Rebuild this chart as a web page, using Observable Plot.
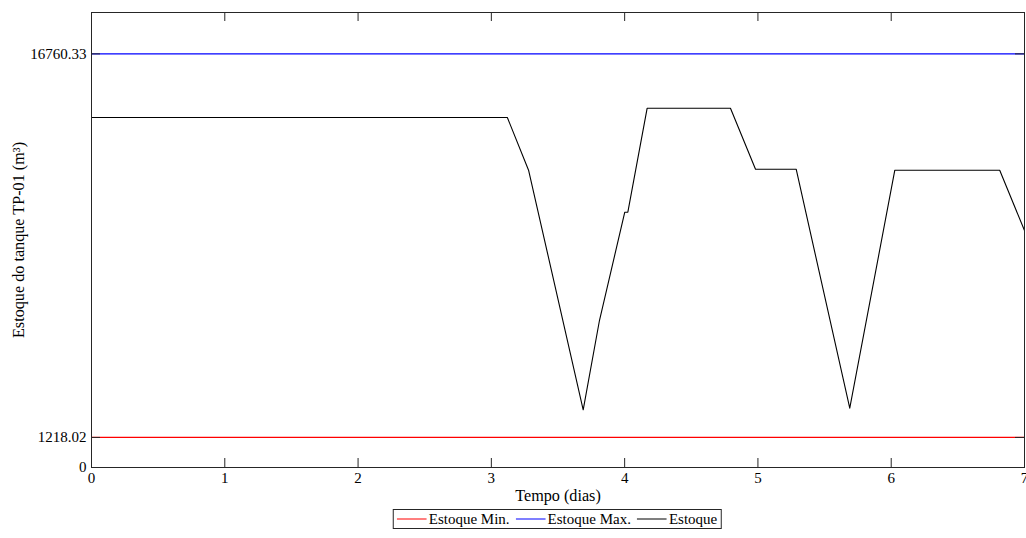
<!DOCTYPE html>
<html>
<head>
<meta charset="utf-8">
<script src="https://cdn.jsdelivr.net/npm/d3@7"></script>
<script src="https://cdn.jsdelivr.net/npm/@observablehq/plot@0.6"></script>
<style>
  html, body { margin: 0; padding: 0; background: #fff; }
  #wrap { position: relative; width: 1026px; height: 538px; font-family: "Liberation Serif", "Times New Roman", Tinos, "DejaVu Serif", "Noto Serif", serif; }
  #legend {
    position: absolute; top: 509px; left: 557px; transform: translateX(-50%);
    display: flex; align-items: center; border: 1px solid #262626; background: #fff;
    font-size: 15px; color: #000; height: 18px; padding: 0 3px 0 3px; white-space: nowrap;
  }
  #legend .item { display: flex; align-items: center; margin-right: 6px; }
  #legend .item:last-child { margin-right: 0; }
  #legend svg { margin-right: 2px; }
</style>
</head>
<body>
<div id="wrap"></div>
<script>
// Data
const days = [0, 3.12, 3.28, 3.689, 3.811, 4.001, 4.024, 4.169, 4.794, 4.982, 5.287, 5.689, 6.027, 6.814, 7.0];
const estoque = [14181, 14181, 12034, 2338, 5956, 10344, 10344, 14558, 14558, 12087, 12087, 2403, 12046, 12046, 9603];
const estoqueMin = 1218.02;
const estoqueMax = 16760.33;
const xTicks = [0, 1, 2, 3, 4, 5, 6, 7];
const yTicks = [0, 1218.02, 16760.33];
const yTickLabels = ["0", "1218.02", "16760.33"];
const seriesNames = ["Estoque Min.", "Estoque Max.", "Estoque"];
const seriesColors = ["#ff0000", "#0000ff", "#000000"];
const xLabel = "Tempo (dias)";
const yLabel = "Estoque do tanque TP-01 (m³)";

const series = days.map((d, i) => ({day: d, value: estoque[i]}));
const W = 1026, H = 502, mt = 12, mb = 35, ml = 91, mr = 2;
const fh = H - mt - mb, fw = W - ml - mr, tl = 9;
const axisColor = "#262626";
const fontStack = "'Liberation Serif', 'Times New Roman', Tinos, 'DejaVu Serif', 'Noto Serif', serif";

const chart = Plot.plot({
  width: W, height: H,
  marginTop: mt, marginBottom: mb, marginLeft: ml, marginRight: mr,
  style: {fontFamily: fontStack, fontSize: "15px", color: "#000", background: "#fff", overflow: "visible"},
  x: {domain: [0, 7]},
  y: {domain: [0, estoqueMax * 1.1]},
  marks: [
    Plot.ruleY([estoqueMin], {y: d => d, stroke: seriesColors[0], strokeWidth: 1.2}),
    Plot.ruleY([estoqueMax], {y: d => d, stroke: seriesColors[1], strokeWidth: 1.2}),
    Plot.line(series, {x: "day", y: "value", stroke: seriesColors[2], strokeWidth: 1.1}),
    Plot.frame({stroke: axisColor, strokeWidth: 1}),
    // inward ticks (bottom and top)
    Plot.tickX(xTicks, {x: d => d, stroke: axisColor, insetTop: fh - tl}),
    Plot.tickX(xTicks, {x: d => d, stroke: axisColor, insetBottom: fh - tl}),
    // inward ticks (left and right)
    Plot.tickY(yTicks, {y: d => d, stroke: axisColor, insetRight: fw - tl}),
    Plot.tickY(yTicks, {y: d => d, stroke: axisColor, insetLeft: fw - tl}),
    Plot.axisX({ticks: xTicks, tickSize: 0, tickPadding: 5, label: null, tickFormat: d => String(d)}),
    Plot.axisY({ticks: yTicks, tickSize: 0, tickPadding: 5, label: null, tickFormat: d => yTickLabels[yTicks.indexOf(d)]}),
    Plot.text([xLabel], {text: d => d, frameAnchor: "bottom", dy: 28, lineAnchor: "middle", textAnchor: "middle", fill: "#000", fontSize: 16.2}),
    Plot.text([yLabel], {text: d => d, frameAnchor: "left", dx: -73, rotate: -90, lineAnchor: "middle", textAnchor: "middle", fill: "#000", fontSize: 16.2, style: "letter-spacing:0.5px"})
  ]
});

const wrap = document.getElementById("wrap");
wrap.appendChild(chart);

const legend = document.createElement("div");
legend.id = "legend";
seriesNames.forEach((name, i) => {
  const item = document.createElement("div");
  item.className = "item";
  const sw = d3.create("svg").attr("width", 30).attr("height", 4);
  sw.append("line").attr("x1", 0).attr("x2", 30).attr("y1", 2).attr("y2", 2)
    .attr("stroke", seriesColors[i]).attr("stroke-width", 1.2);
  const t = document.createElement("span");
  t.textContent = name;
  item.appendChild(sw.node());
  item.appendChild(t);
  legend.appendChild(item);
});
wrap.appendChild(legend);
</script>
</body>
</html>
